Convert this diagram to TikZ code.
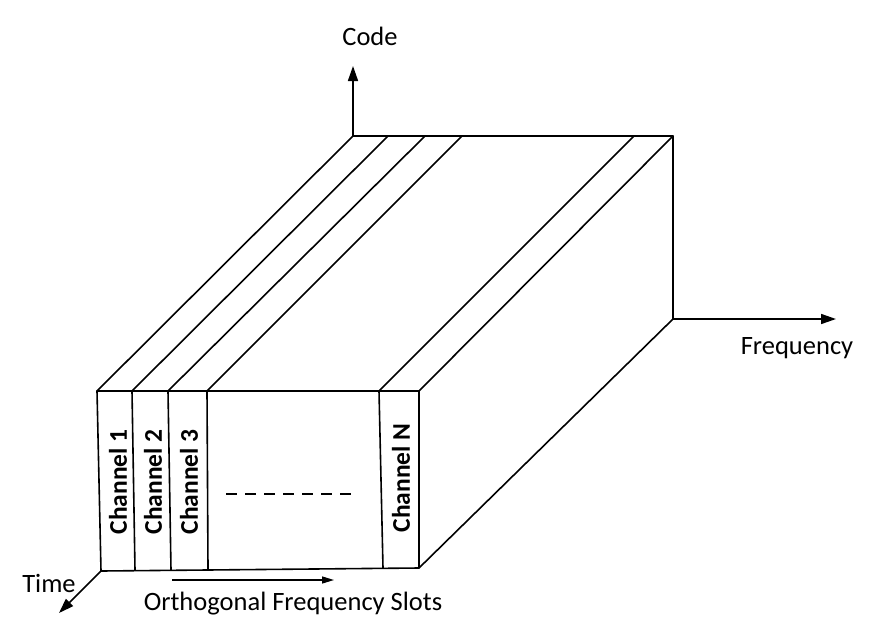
\documentclass[tikz,border=0pt]{standalone}
\usepackage{fontspec}
\setmainfont{Carlito}
\usetikzlibrary{arrows.meta}
\tikzset{
  edge/.style={line width=1.6pt, line cap=round, line join=round},
  axis/.style={line width=1.6pt, -{Triangle[length=15pt,width=10pt]}},
  lbl/.style={font=\fontsize{26.5}{30}\selectfont, inner sep=0pt},
  chlbl/.style={font=\bfseries\fontsize{25.5}{29}\selectfont, rotate=90, inner sep=0pt}
}
\begin{document}
\begin{tikzpicture}[x=1pt,y=-1pt]
\useasboundingbox (0,0) rectangle (880,640);
% front face corners and dividers (top, bottom)
\coordinate (f0t) at (97,391);  \coordinate (f0b) at (101,571);
\coordinate (f1t) at (132,391); \coordinate (f1b) at (135,570);
\coordinate (f2t) at (168,391); \coordinate (f2b) at (171,570);
\coordinate (f3t) at (207,391); \coordinate (f3b) at (208,569);
\coordinate (f4t) at (379,391); \coordinate (f4b) at (383,568);
\coordinate (f5t) at (419,391); \coordinate (f5b) at (419,568);
% back top points
\coordinate (b0) at (353,136);
\coordinate (b1) at (388,136);
\coordinate (b2) at (425,136);
\coordinate (b3) at (462,136);
\coordinate (b4) at (634,136);
\coordinate (b5) at (673,136);
\coordinate (b5b) at (673,319);
% front face
\draw[edge] (f0t) -- (f5t) -- (f5b) -- (f0b) -- cycle;
\foreach \i in {1,2,3,4} \draw[edge] (f\i t) -- (f\i b);
% top face diagonals
\foreach \i in {0,1,2,3,4,5} \draw[edge] (f\i t) -- (b\i);
\draw[edge] (b0) -- (b5) -- (b5b) -- (f5b);
% dashed
\draw[line width=1.4pt, dash pattern=on 11pt off 8pt] (226,494) -- (357,494);
% axes
\coordinate (codeend) at (353,66);
\coordinate (freqend) at (836,319);
\coordinate (timeend) at (59,613);
\draw[axis] (b0) -- (codeend);
\draw[axis] (b5b) -- (freqend);
\draw[axis] (f0b) -- (timeend);
\coordinate (ofs0) at (172,580);
\coordinate (ofs1) at (334,580);
\draw[line width=1.4pt, -{Triangle[length=12pt,width=7pt]}] (ofs0) -- (ofs1);
% labels
\node[lbl] (code) at (370,36) {Code};
\node[lbl] (freq) at (797,348) {Frequency};
\node[lbl] (time) at (49,583) {Time};
\node[lbl] (ofs) at (293,604) {Orthogonal Frequency Slots};
\node[chlbl] (c1) at (118,482) {Channel 1};
\node[chlbl] (c2) at (153,482) {Channel 2};
\node[chlbl] (c3) at (189,482) {Channel 3};
\node[chlbl] (cn) at (401,478) {Channel N};
\end{tikzpicture}
\end{document}
